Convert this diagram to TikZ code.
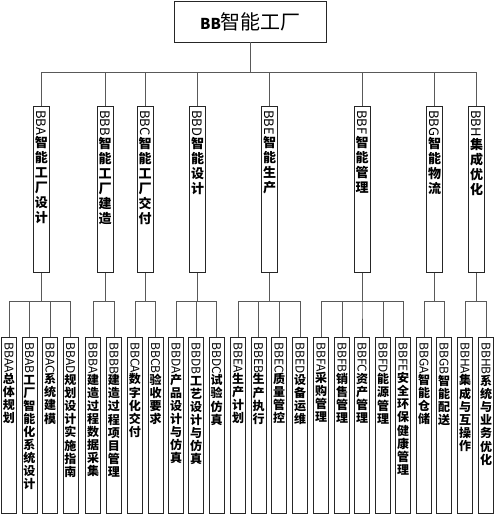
\documentclass[tikz,border=0pt]{standalone}
\usepackage{fontspec}
\setmainfont{Noto Sans CJK SC}
\usepackage{graphicx}

\newlength\labpitch
\makeatletter
\def\stackchars#1{\stack@loop#1\@nil}
\def\stack@loop#1{\ifx#1\@nil\else
  \hbox to\hsize{\hss\vrule width0pt height.82\labpitch depth.18\labpitch #1\hss}%
  \expandafter\stack@loop\fi}
\makeatother
% width, height, top gap, font of the characters, latin part, characters
\newcommand{\vlab}[6]{%
  \setlength\labpitch{\baselineskip}%
  \vbox to #2{\offinterlineskip\hsize=#1\kern#3
    \hbox to\hsize{\hss\raisebox{\depth}{\rotatebox{-90}{#5}}\hss}%
    {#4\stackchars{#6}}\vfil}}
\newcommand{\midlab}[2]{\vlab{16pt}{166pt}{4pt}{\bfseries}{#1}{#2}}
\newcommand{\lowlab}[2]{\vlab{15pt}{176pt}{5pt}{\bfseries}{#1}{#2}}

\begin{document}
\begin{tikzpicture}[x=1pt,y=-1pt,
    topbox/.style={draw=black!85, line width=0.9pt, minimum width=152pt, minimum height=41pt},
    midbox/.style={draw=black!85, line width=0.9pt, inner sep=0pt, anchor=north,
      font=\fontsize{13}{15}\selectfont},
    lowbox/.style={draw=black!85, line width=0.9pt, inner sep=0pt, anchor=north,
      font=\fontsize{12}{13.1}\selectfont},
    link/.style={draw=black!65, line width=0.8pt}]
    \useasboundingbox (0,0) rectangle (497,515);

    \node[topbox] (bb) at (250.5,21.5) {{\fontsize{15}{17}\selectfont\bfseries BB}{\fontsize{20}{22}\selectfont 智能工厂}};

    \node[midbox] (bba) at (41.5,106) {\midlab{BBA}{智能工厂设计}};
    \node[midbox] (bbb) at (105,106) {\midlab{BBB}{智能工厂建造}};
    \node[midbox] (bbc) at (145,106) {\midlab{BBC}{智能工厂交付}};
    \node[midbox] (bbd) at (197.5,106) {\midlab{BBD}{智能设计}};
    \node[midbox] (bbe) at (269.5,106) {\midlab{BBE}{智能生产}};
    \node[midbox] (bbf) at (362,106) {\midlab{BBF}{智能管理}};
    \node[midbox] (bbg) at (434.5,106) {\midlab{BBG}{智能物流}};
    \node[midbox] (bbh) at (476.5,106) {\midlab{BBH}{集成优化}};

    \node[lowbox] (bbaa) at (9,337) {\lowlab{BBAA}{总体规划}};
    \node[lowbox] (bbab) at (29.5,337) {\lowlab{BBAB}{工厂智能化系统设计}};
    \node[lowbox] (bbac) at (50,337) {\lowlab{BBAC}{系统建模}};
    \node[lowbox] (bbad) at (70.5,337) {\lowlab{BBAD}{规划设计实施指南}};
    \node[lowbox] (bbba) at (93,337) {\lowlab{BBBA}{建造过程数据采集}};
    \node[lowbox] (bbbb) at (114,337) {\lowlab{BBBB}{建造过程项目管理}};
    \node[lowbox] (bbca) at (135,337) {\lowlab{BBCA}{数字化交付}};
    \node[lowbox] (bbcb) at (155.5,337) {\lowlab{BBCB}{验收要求}};
    \node[lowbox] (bbda) at (176,337) {\lowlab{BBDA}{产品设计与仿真}};
    \node[lowbox] (bbdb) at (196,337) {\lowlab{BBDB}{工艺设计与仿真}};
    \node[lowbox] (bbdc) at (216.5,337) {\lowlab{BBDC}{试验仿真}};
    \node[lowbox] (bbea) at (238,337) {\lowlab{BBEA}{生产计划}};
    \node[lowbox] (bbeb) at (258.5,337) {\lowlab{BBEB}{生产执行}};
    \node[lowbox] (bbec) at (279,337) {\lowlab{BBEC}{质量管控}};
    \node[lowbox] (bbed) at (300,337) {\lowlab{BBED}{设备运维}};
    \node[lowbox] (bbfa) at (321,337) {\lowlab{BBFA}{采购管理}};
    \node[lowbox] (bbfb) at (342,337) {\lowlab{BBFB}{销售管理}};
    \node[lowbox] (bbfc) at (362,337) {\lowlab{BBFC}{资产管理}};
    \node[lowbox] (bbfd) at (383,337) {\lowlab{BBFD}{能源管理}};
    \node[lowbox] (bbfe) at (403,337) {\lowlab{BBFE}{安全环保健康管理}};
    \node[lowbox] (bbga) at (424,337) {\lowlab{BBGA}{智能仓储}};
    \node[lowbox] (bbgb) at (444,337) {\lowlab{BBGB}{智能配送}};
    \node[lowbox] (bbha) at (465,337) {\lowlab{BBHA}{集成与互操作}};
    \node[lowbox] (bbhb) at (486,337) {\lowlab{BBHB}{系统与业务优化}};

    % top level
    \draw[link] (bb.south) -- ++(0,30) -| (bba.north)
      (bb.south) -- ++(0,30) -| (bbb.north)
      (bb.south) -- ++(0,30) -| (bbc.north)
      (bb.south) -- ++(0,30) -| (bbd.north)
      (bb.south) -- ++(0,30) -| (bbe.north)
      (bb.south) -- ++(0,30) -| (bbf.north)
      (bb.south) -- ++(0,30) -| (bbg.north)
      (bb.south) -- ++(0,30) -| (bbh.north);

    % second level
    \draw[link] (bba.south) -- ++(0,28) -| (bbaa.north)
      (bba.south) -- ++(0,28) -| (bbab.north)
      (bba.south) -- ++(0,28) -| (bbac.north)
      (bba.south) -- ++(0,28) -| (bbad.north);
    \draw[link] (bbb.south) -- ++(0,28) -| (bbba.north)
      (bbb.south) -- ++(0,28) -| (bbbb.north);
    \draw[link] (bbc.south) -- ++(0,28) -| (bbca.north)
      (bbc.south) -- ++(0,28) -| (bbcb.north);
    \draw[link] (bbd.south) -- ++(0,28) -| (bbda.north)
      (bbd.south) -- ++(0,28) -| (bbdb.north)
      (bbd.south) -- ++(0,28) -| (bbdc.north);
    \draw[link] (bbe.south) -- ++(0,28) -| (bbea.north)
      (bbe.south) -- ++(0,28) -| (bbeb.north)
      (bbe.south) -- ++(0,28) -| (bbec.north)
      (bbe.south) -- ++(0,28) -| (bbed.north);
    \draw[link] (bbf.south) -- ++(0,28) -| (bbfa.north)
      (bbf.south) -- ++(0,28) -| (bbfb.north)
      (bbf.south) -- ++(0,28) -| (bbfc.north)
      (bbf.south) -- ++(0,28) -| (bbfd.north)
      (bbf.south) -- ++(0,28) -| (bbfe.north);
    \draw[link] (bbg.south) -- ++(0,28) -| (bbga.north)
      (bbg.south) -- ++(0,28) -| (bbgb.north);
    \draw[link] (bbh.south) -- ++(0,28) -| (bbha.north)
      (bbh.south) -- ++(0,28) -| (bbhb.north);
\end{tikzpicture}
\end{document}
